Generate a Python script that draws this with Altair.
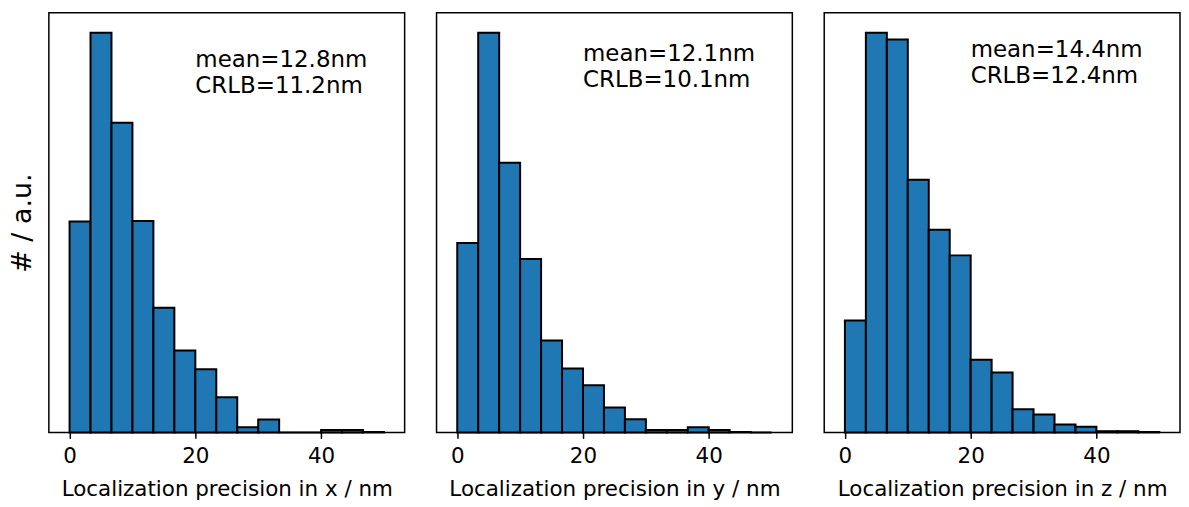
import altair as alt
import pandas as pd

bin_edges = [0, 3.333, 6.667, 10, 13.333, 16.667, 20, 23.333, 26.667, 30,
             33.333, 36.667, 40, 43.333, 46.667, 50]
counts_x = [52.8, 100, 77.5, 52.9, 31.2, 20.5, 15.8, 8.8, 1.3, 3.2, 0, 0, 0.6, 0.6, 0.1]
counts_y = [47.4, 100, 67.5, 43.4, 23.0, 16.0, 11.8, 6.2, 3.3, 0.6, 0.6, 1.3, 0.6, 0.1, 0]
counts_z = [28.0, 100, 98.3, 63.2, 50.7, 44.3, 18.2, 15.0, 5.8, 4.5, 2.0, 1.4, 0.3, 0.3, 0.1]
axis_labels = ["Localization precision in x / nm",
               "Localization precision in y / nm",
               "Localization precision in z / nm"]
mean_texts = ["mean=12.8nm", "mean=12.1nm", "mean=14.4nm"]
crlb_texts = ["CRLB=11.2nm", "CRLB=10.1nm", "CRLB=12.4nm"]
# annotation anchor (data units) for each panel: line1 y, line2 y
anno_y = [(91.5, 85.0), (93.0, 86.5), (94.0, 87.5)]

FONT = "DejaVu Sans"
W, H = 357, 421


def panel(counts, xlabel, mean_t, crlb_t, ys, show_y):
    df = pd.DataFrame({"start": bin_edges[:-1], "end": bin_edges[1:], "count": counts})
    xscale = alt.Scale(domain=[-2.5, 52.5], nice=False, zero=False)
    yscale = alt.Scale(domain=[0, 105], nice=False)
    xaxis = alt.Axis(values=[0, 20, 40], format="d", title=xlabel, grid=False,
                     domain=False, tickColor="black", tickWidth=1.5, tickSize=6,
                     labelFontSize=21.5, labelColor="black", labelFont=FONT,
                     labelPadding=7, titleFontSize=21.5, titleFont=FONT,
                     titleFontWeight="normal", titleColor="black", titlePadding=12)
    if show_y:
        yaxis = alt.Axis(labels=False, ticks=False, domain=False, grid=False,
                         title="# / a.u.", titleFontSize=27, titleFont=FONT,
                         titleFontWeight="normal", titleColor="black", titlePadding=12)
    else:
        yaxis = None
    bars = alt.Chart(df).mark_bar(fill="#1f77b4", stroke="black", strokeWidth=2,
                                  orient="vertical").encode(
        x=alt.X("start:Q", scale=xscale, axis=xaxis),
        x2="end:Q",
        y=alt.Y("count:Q", scale=yscale, axis=yaxis),
        y2=alt.datum(0),
    )
    tdf = pd.DataFrame({"x": [20, 20], "y": list(ys), "t": [mean_t, crlb_t]})
    txt = alt.Chart(tdf).mark_text(align="left", baseline="alphabetic", fontSize=23,
                                   font=FONT, color="black").encode(
        x=alt.X("x:Q", scale=xscale),
        y=alt.Y("y:Q", scale=yscale),
        text="t:N",
    )
    return alt.layer(bars, txt).properties(width=W, height=H)


panels = [
    panel(counts_x, axis_labels[0], mean_texts[0], crlb_texts[0], anno_y[0], True),
    panel(counts_y, axis_labels[1], mean_texts[1], crlb_texts[1], anno_y[1], False),
    panel(counts_z, axis_labels[2], mean_texts[2], crlb_texts[2], anno_y[2], False),
]

chart = alt.hconcat(*panels, spacing=30).properties(
    padding={"left": 0, "top": 3, "right": 0, "bottom": 0},
    background="white",
).configure_view(stroke="black", strokeWidth=1.5)

chart.save("out.html", embed_options={"renderer": "svg", "actions": False})
